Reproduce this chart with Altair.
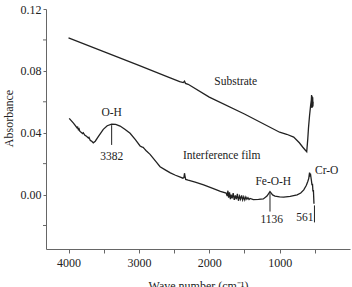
import altair as alt
import pandas as pd

# Substrate spectrum (wavenumber cm-1, absorbance)
sub_wn = [4000, 3500, 3000, 2600, 2420, 2370, 2352, 2338, 2300, 2000, 1500,
          1000, 900, 800, 720, 670, 640, 615, 600, 590, 575, 560, 550,
          546, 542, 538, 534, 530, 527, 524]
sub_v = [0.1013, 0.0924, 0.0835, 0.0763, 0.0731, 0.0724, 0.0733, 0.0719, 0.0713,
         0.0630, 0.0521, 0.0403, 0.0390, 0.0372, 0.0335, 0.0306, 0.0290, 0.0277,
         0.0360, 0.0430, 0.0510, 0.0575, 0.0610, 0.0643, 0.0560, 0.0635, 0.0565,
         0.0630, 0.0570, 0.0600]

# Interference film spectrum
film_wn = [3990, 3930, 3880, 3870, 3860, 3850, 3840, 3800, 3790, 3770, 3740,
           3720, 3710, 3690, 3670, 3648, 3620, 3577, 3506, 3450, 3387, 3330,
           3267, 3200, 3125, 3050, 2983, 2960, 2940, 2920, 2900, 2841, 2760,
           2699, 2620, 2553, 2480, 2411, 2375, 2360, 2352, 2345, 2335, 2300,
           2200, 2080, 1950, 1842, 1760, 1745, 1735, 1725, 1712, 1700, 1690,
           1675, 1660, 1645, 1630, 1615, 1600, 1585, 1570, 1555, 1540, 1525,
           1510, 1495, 1480, 1465, 1450, 1435, 1420, 1374, 1300, 1232, 1180,
           1137, 1100, 1066, 1000, 942, 850, 751, 700, 657, 620, 600, 586,
           575, 568, 562, 555, 548, 540, 533, 527, 520, 512]
film_v = [0.0493, 0.0462, 0.0432, 0.0436, 0.0420, 0.0425, 0.0410, 0.0395, 0.0400,
          0.0385, 0.0375, 0.0366, 0.0370, 0.0350, 0.0345, 0.0335, 0.0345, 0.0374,
          0.0422, 0.0445, 0.0456, 0.0454, 0.0443, 0.0422, 0.0396, 0.0355, 0.0314,
          0.0308, 0.0306, 0.0295, 0.0285, 0.0260, 0.0215, 0.0180, 0.0158, 0.0140,
          0.0125, 0.0113, 0.0106, 0.0110, 0.0138, 0.0120, 0.0098, 0.0093, 0.0080,
          0.0063, 0.0040, 0.0020, 0.0010, -0.0010, 0.0025, -0.0020, 0.0015,
          -0.0030, 0.0000, -0.0025, 0.0010, -0.0035, -0.0005, -0.0030, 0.0005,
          -0.0040, -0.0010, -0.0030, -0.0005, -0.0035, -0.0015, -0.0035, -0.0015,
          -0.0030, -0.0020, -0.0032, -0.0025, -0.0033, -0.0031, -0.0028, -0.0010,
          0.0019, -0.0002, -0.0010, -0.0015, -0.0017, -0.0012, -0.0002, 0.0010,
          0.0030, 0.0060, 0.0085, 0.0105, 0.0142, 0.0128, 0.0136, 0.0112, 0.0090,
          0.0060, 0.0070, 0.0020, 0.0030, -0.0060]

# Text annotations
ann_text = ["O-H", "3382", "Substrate", "Interference film", "Fe-O-H", "1136", "Cr-O", "561"]
ann_wn = [3387, 3387, 1624, 1823, 1090, 1113, 331, 640]
ann_v = [0.0525, 0.0241, 0.0725, 0.0250, 0.0084, -0.0163, 0.0155, -0.0151]

# Marker lines under peaks
tick_wn = [3387, 1137, 505]
tick_top = [0.0449, 0.0009, -0.0070]
tick_bot = [0.0321, -0.0110, -0.0180]

x_ticks = [4000, 3500, 3000, 2500, 2000, 1500, 1000, 500]
y_major = [0.12, 0.08, 0.04, 0.00]
y_minor = [0.10, 0.06, 0.02, -0.02]

FONT = "Liberation Serif"
INK = "#222222"
AX = "#666666"

spec = pd.DataFrame(
    {"wn": sub_wn + film_wn,
     "v": sub_v + film_v,
     "series": ["Substrate"] * len(sub_wn) + ["Interference film"] * len(film_wn)}
)
ann = pd.DataFrame({"text": ann_text, "wn": ann_wn, "v": ann_v})
ticks = pd.DataFrame({"wn": tick_wn, "top": tick_top, "bot": tick_bot})
minor = pd.DataFrame({"v": y_minor})

xscale = alt.Scale(domain=[4320, 0], nice=False, zero=False)
yscale = alt.Scale(domain=[-0.0352, 0.12], nice=False, zero=False)

xaxis = alt.Axis(
    values=x_ticks, grid=False, format="d",
    labelExpr="datum.value % 1000 == 0 ? datum.label : ''",
    title="Wave number (cm⁻¹)", titleFont=FONT, titleFontSize=12,
    titleFontWeight="normal", titleColor=INK, titleBaseline="top", titleY=31,
    labelFont=FONT, labelFontSize=12, labelColor=INK, labelPadding=4,
    tickSize=4, tickColor=AX, domainColor=AX,
)
yaxis = alt.Axis(
    values=y_major, grid=False, format=".2f",
    title="Absorbance", titleFont=FONT, titleFontSize=12,
    titleFontWeight="normal", titleColor=INK, titleX=-38, titleY=109,
    titleBaseline="middle", titleAlign="center",
    labelFont=FONT, labelFontSize=12, labelColor=INK, labelPadding=2,
    tickSize=3, tickColor=AX, domainColor=AX,
)

lines = alt.Chart(spec).mark_line(color=INK, strokeWidth=1.3).encode(
    x=alt.X("wn:Q", scale=xscale, axis=xaxis),
    y=alt.Y("v:Q", scale=yscale, axis=yaxis),
    detail="series:N",
    order=alt.Order("wn:Q", sort="descending"),
)

minor_ticks = alt.Chart(minor).mark_rule(color=AX, strokeWidth=1).encode(
    x=alt.value(-3),
    x2=alt.value(0),
    y=alt.Y("v:Q", scale=yscale),
)

marks = alt.Chart(ticks).mark_rule(color=INK, strokeWidth=1).encode(
    x=alt.X("wn:Q", scale=xscale),
    y=alt.Y("top:Q", scale=yscale),
    y2="bot:Q",
)

labels = alt.Chart(ann).mark_text(
    font=FONT, fontSize=11.5, color=INK, baseline="middle", align="center"
).encode(
    x=alt.X("wn:Q", scale=xscale),
    y=alt.Y("v:Q", scale=yscale),
    text="text:N",
)

chart = (
    alt.layer(lines, minor_ticks, marks, labels)
    .properties(
        width=304, height=240, autosize="none",
        padding={"left": 46, "top": 9, "right": 2, "bottom": 38},
    )
    .configure_view(strokeWidth=0)
)

chart.save("out.html", embed_options={"renderer": "svg", "actions": False})
